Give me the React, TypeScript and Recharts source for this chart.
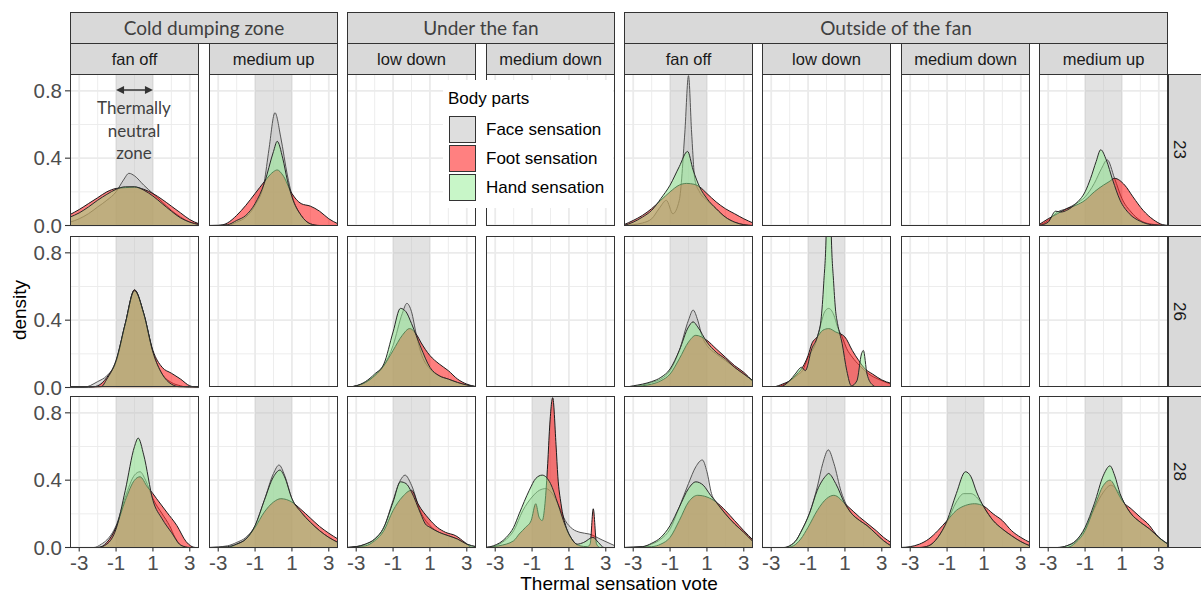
import React from 'react';
import { ComposedChart, Area, XAxis, YAxis, CartesianGrid, ReferenceLine } from 'recharts';

type Pt = [number, number];

// ---------- labels / categories ----------
const ZONES = ['Cold dumping zone', 'Under the fan', 'Outside of the fan'];
const COLUMN_ZONE = [0, 0, 1, 1, 2, 2, 2, 2];
const COLUMN_LABELS = ['fan off', 'medium up', 'low down', 'medium down', 'fan off', 'low down', 'medium down', 'medium up'];
const COLUMN_KEYS = ['cold_fanoff', 'cold_mediumup', 'under_lowdown', 'under_mediumdown', 'out_fanoff', 'out_lowdown', 'out_mediumdown', 'out_mediumup'];
const TEMPS = ['23', '26', '28'];
const BODY_PARTS = ['Face sensation', 'Foot sensation', 'Hand sensation'];
const X_TICKS = [-3, -1, 1, 3];
const X_MINOR = [-2, 0, 2];
const Y_TICKS = [0, 0.4, 0.8];
const Y_MINOR = [0.2, 0.6];
const X_DOMAIN: [number, number] = [-3.5, 3.5];
const Y_DOMAIN: [number, number] = [0, 0.9];
const NEUTRAL_ZONE: [number, number] = [-1, 1];
const ARROW_Y = 0.805;
const NOTE_LINES = ['Thermally', 'neutral', 'zone'];

// ---------- densities, 23 ----------
const t23_cold_fanoff_face: Pt[] = [[-3.5,0.02],[-3,0.04],[-2.5,0.07],[-2,0.11],[-1.5,0.15],[-1,0.2],[-0.6,0.27],[-0.3,0.31],[0,0.295],[0.5,0.24],[1,0.19],[1.5,0.14],[2,0.09],[2.5,0.05],[3,0.02],[3.5,0.01]];
const t23_cold_fanoff_foot: Pt[] = [[-3.5,0.065],[-3,0.095],[-2.5,0.13],[-2,0.165],[-1.5,0.2],[-1,0.22],[-0.5,0.225],[0,0.228],[0.5,0.215],[1,0.19],[1.5,0.155],[2,0.115],[2.5,0.075],[3,0.035],[3.5,0.01]];
const t23_cold_fanoff_hand: Pt[] = [[-3.5,0.05],[-3,0.075],[-2.5,0.11],[-2,0.15],[-1.5,0.185],[-1,0.215],[-0.5,0.23],[0,0.23],[0.5,0.21],[1,0.175],[1.5,0.13],[2,0.085],[2.5,0.045],[3,0.02],[3.5,0.005]];

const t23_cold_mediumup_face: Pt[] = [[-3.5,0],[-2.5,0],[-2,0.02],[-1.5,0.05],[-1,0.12],[-0.5,0.26],[-0.25,0.45],[0.08,0.67],[0.4,0.52],[0.75,0.3],[1,0.18],[1.5,0.06],[2,0.01],[2.5,0],[3.5,0]];
const t23_cold_mediumup_foot: Pt[] = [[-3.5,0],[-3,0],[-2.5,0.015],[-2,0.06],[-1.5,0.12],[-1,0.19],[-0.5,0.26],[0,0.32],[0.2,0.33],[0.5,0.3],[1,0.19],[1.5,0.13],[2,0.115],[2.5,0.085],[3,0.04],[3.5,0.01]];
const t23_cold_mediumup_hand: Pt[] = [[-3.5,0],[-2.5,0.005],[-2,0.03],[-1.5,0.06],[-1,0.13],[-0.5,0.25],[0,0.44],[0.2,0.5],[0.5,0.4],[0.75,0.27],[1,0.17],[1.5,0.06],[2,0.01],[2.5,0],[3.5,0]];

const t23_out_fanoff_face: Pt[] = [[-3.5,0],[-3,0.005],[-2.5,0.015],[-2,0.04],[-1.6,0.1],[-1.2,0.15],[-0.85,0.07],[-0.5,0.15],[-0.2,0.55],[0,0.89],[0.17,0.55],[0.35,0.27],[0.6,0.2],[1,0.15],[1.5,0.1],[2,0.05],[2.5,0.02],[3,0.005],[3.5,0]];
const t23_out_fanoff_foot: Pt[] = [[-3.5,0.005],[-3,0.03],[-2.5,0.06],[-2,0.1],[-1.5,0.15],[-1,0.2],[-0.5,0.24],[-0.1,0.25],[0.3,0.245],[0.6,0.23],[1,0.19],[1.5,0.14],[2,0.1],[2.5,0.07],[3,0.04],[3.5,0.015]];
const t23_out_fanoff_hand: Pt[] = [[-3.5,0],[-3,0.02],[-2.5,0.05],[-2,0.09],[-1.5,0.16],[-1,0.24],[-0.5,0.35],[-0.05,0.44],[0.25,0.33],[0.6,0.23],[1,0.16],[1.5,0.1],[2,0.05],[2.5,0.02],[3,0.005],[3.5,0]];

const t23_out_mediumup_face: Pt[] = [[-3.5,0],[-3,0.03],[-2.5,0.08],[-2,0.1],[-1.5,0.13],[-1,0.17],[-0.5,0.25],[-0.1,0.34],[0.2,0.39],[0.6,0.28],[1,0.16],[1.5,0.08],[2,0.03],[2.5,0.01],[3.5,0]];
const t23_out_mediumup_foot: Pt[] = [[-3.5,0.005],[-3,0.04],[-2.5,0.07],[-2,0.1],[-1.5,0.12],[-1,0.15],[-0.5,0.2],[0,0.24],[0.3,0.26],[0.6,0.28],[1.15,0.24],[1.6,0.17],[2.15,0.09],[2.7,0.035],[3.2,0.005],[3.5,0]];
const t23_out_mediumup_hand: Pt[] = [[-3.5,0],[-3,0.02],[-2.6,0.085],[-2.3,0.08],[-2,0.09],[-1.5,0.13],[-1,0.2],[-0.7,0.28],[-0.4,0.38],[-0.15,0.45],[0.15,0.39],[0.5,0.27],[0.9,0.15],[1.4,0.07],[2,0.025],[2.6,0.005],[3.5,0]];

// ---------- densities, 26 ----------
const t26_cold_fanoff_face: Pt[] = [[-3.5,0],[-2.8,0],[-2,0.035],[-1.5,0.07],[-1,0.15],[-0.5,0.38],[0,0.58],[0.5,0.44],[1,0.21],[1.5,0.08],[2,0.03],[2.5,0.01],[3,0],[3.5,0]];
const t26_cold_fanoff_foot: Pt[] = [[-3.5,0],[-2.5,0],[-2,0.01],[-1.5,0.06],[-1,0.16],[-0.5,0.38],[0,0.58],[0.5,0.44],[1,0.22],[1.5,0.12],[2,0.085],[2.5,0.05],[3,0.01],[3.5,0]];
const t26_cold_fanoff_hand: Pt[] = [[-3.5,0],[-2.5,0],[-1.8,0.005],[-1.5,0.05],[-1,0.16],[-0.5,0.38],[0,0.575],[0.5,0.44],[1,0.21],[1.5,0.08],[2,0.02],[2.5,0.003],[3.5,0]];

const t26_under_lowdown_face: Pt[] = [[-3.5,0],[-3,0.01],[-2.5,0.03],[-2,0.07],[-1.5,0.13],[-1,0.25],[-0.5,0.44],[-0.25,0.5],[0,0.45],[0.25,0.32],[0.5,0.21],[1,0.11],[1.5,0.07],[2,0.05],[2.5,0.03],[3,0.015],[3.5,0.005]];
const t26_under_lowdown_foot: Pt[] = [[-3.5,0],[-3,0.01],[-2.5,0.03],[-2,0.07],[-1.5,0.13],[-1,0.22],[-0.5,0.31],[-0.1,0.35],[0.3,0.31],[0.5,0.27],[1,0.19],[1.5,0.14],[2,0.1],[2.5,0.05],[3,0.02],[3.5,0.005]];
const t26_under_lowdown_hand: Pt[] = [[-3.5,0],[-3,0.01],[-2.5,0.035],[-2,0.08],[-1.5,0.14],[-1,0.33],[-0.6,0.47],[-0.3,0.45],[0,0.38],[0.5,0.24],[1,0.12],[1.5,0.07],[2,0.05],[2.5,0.03],[3,0.015],[3.5,0.005]];

const t26_out_fanoff_face: Pt[] = [[-3.5,0],[-3,0.005],[-2.5,0.015],[-2,0.03],[-1.5,0.05],[-1,0.1],[-0.5,0.22],[0,0.4],[0.25,0.46],[0.5,0.4],[0.75,0.3],[1,0.25],[1.5,0.2],[2,0.16],[2.5,0.12],[3,0.08],[3.5,0.04]];
const t26_out_fanoff_foot: Pt[] = [[-3.5,0],[-3,0],[-2.5,0.01],[-2,0.02],[-1.5,0.04],[-1,0.08],[-0.5,0.17],[0,0.27],[0.4,0.31],[1,0.28],[1.5,0.23],[2,0.18],[2.5,0.13],[3,0.09],[3.5,0.035]];
const t26_out_fanoff_hand: Pt[] = [[-3.5,0],[-3,0.01],[-2.5,0.02],[-2,0.035],[-1.5,0.06],[-1,0.11],[-0.5,0.22],[0,0.36],[0.25,0.39],[0.5,0.36],[1,0.27],[1.5,0.21],[2,0.17],[2.5,0.12],[3,0.08],[3.5,0.04]];

const t26_out_lowdown_face: Pt[] = [[-3.5,0],[-2.5,0.01],[-2,0.04],[-1.5,0.08],[-1.3,0.1],[-1,0.18],[-0.6,0.26],[-0.3,0.38],[-0.1,0.45],[0.12,0.47],[0.4,0.43],[0.6,0.36],[0.85,0.3],[1.1,0.23],[1.4,0.18],[1.8,0.13],[2.3,0.08],[2.8,0.05],[3.5,0.02]];
const t26_out_lowdown_foot: Pt[] = [[-3.5,0],[-2.8,0.005],[-2.4,0.02],[-2,0.04],[-1.6,0.08],[-1.3,0.12],[-1,0.19],[-0.8,0.26],[-0.5,0.3],[-0.2,0.34],[0.12,0.35],[0.5,0.33],[1,0.3],[1.4,0.22],[1.75,0.16],[2.1,0.11],[2.5,0.08],[3,0.045],[3.5,0.025]];
const t26_out_lowdown_hand: Pt[] = [[-3.5,0],[-2.5,0.005],[-2,0.04],[-1.7,0.08],[-1.35,0.12],[-1.15,0.1],[-0.8,0.23],[-0.5,0.3],[-0.3,0.4],[-0.15,0.62],[-0.01,0.95],[0.02,1.3],[0.22,1.3],[0.25,0.95],[0.39,0.62],[0.5,0.45],[0.6,0.38],[0.85,0.26],[1.1,0.1],[1.35,0.01],[1.65,0.04],[1.9,0.2],[2,0.22],[2.2,0.08],[2.5,0.015],[2.8,0],[3.5,0]];

// ---------- densities, 28 ----------
const t28_cold_fanoff_face: Pt[] = [[-3.5,0],[-2.2,0],[-1.8,0.02],[-1.5,0.045],[-1,0.13],[-0.5,0.3],[0,0.43],[0.3,0.45],[0.6,0.4],[1,0.29],[1.5,0.2],[1.9,0.13],[2.2,0.06],[2.55,0.01],[3,0],[3.5,0]];
const t28_cold_fanoff_foot: Pt[] = [[-3.5,0],[-2,0],[-1.5,0.03],[-1,0.12],[-0.5,0.28],[0,0.4],[0.3,0.42],[0.7,0.36],[1,0.32],[1.2,0.29],[1.75,0.21],[2.3,0.13],[2.8,0.035],[3.3,0],[3.5,0]];
const t28_cold_fanoff_hand: Pt[] = [[-3.5,0],[-2,0],[-1.5,0.02],[-1,0.11],[-0.5,0.34],[0,0.6],[0.2,0.65],[0.5,0.55],[1,0.28],[1.5,0.17],[2,0.09],[2.5,0.015],[3,0],[3.5,0]];

const t28_cold_mediumup_face: Pt[] = [[-3.5,0],[-2.5,0.01],[-2,0.03],[-1.5,0.06],[-1,0.13],[-0.5,0.28],[0,0.44],[0.3,0.49],[0.6,0.43],[1,0.29],[1.5,0.21],[2,0.15],[2.5,0.1],[3,0.06],[3.5,0.03]];
const t28_cold_mediumup_foot: Pt[] = [[-3.5,0],[-2.5,0],[-2,0.02],[-1.5,0.05],[-1,0.12],[-0.5,0.21],[0,0.27],[0.4,0.29],[1,0.27],[1.45,0.23],[2,0.175],[2.5,0.125],[3,0.085],[3.5,0.05]];
const t28_cold_mediumup_hand: Pt[] = [[-3.5,0],[-2.5,0.005],[-2,0.02],[-1.5,0.05],[-1,0.13],[-0.5,0.28],[0,0.42],[0.35,0.46],[0.6,0.42],[1,0.29],[1.5,0.21],[2,0.15],[2.5,0.1],[3,0.06],[3.5,0.03]];

const t28_under_lowdown_face: Pt[] = [[-3.5,0],[-3,0.005],[-2.5,0.02],[-2,0.05],[-1.5,0.12],[-1,0.28],[-0.6,0.4],[-0.35,0.43],[0,0.37],[0.5,0.21],[1,0.13],[1.5,0.09],[2,0.07],[2.5,0.05],[3,0.02],[3.5,0.005]];
const t28_under_lowdown_foot: Pt[] = [[-3.5,0],[-3,0.005],[-2.5,0.01],[-2,0.04],[-1.5,0.1],[-1,0.22],[-0.5,0.3],[0,0.34],[0.35,0.26],[0.95,0.17],[1.4,0.12],[1.85,0.09],[2.4,0.07],[2.9,0.03],[3.3,0],[3.5,0]];
const t28_under_lowdown_hand: Pt[] = [[-3.5,0],[-3,0.005],[-2.5,0.02],[-2,0.05],[-1.5,0.12],[-1,0.27],[-0.6,0.39],[-0.3,0.38],[0,0.33],[0.5,0.2],[0.75,0.14],[1,0.12],[1.5,0.09],[2,0.07],[2.5,0.05],[3,0.02],[3.5,0.005]];

const t28_under_mediumdown_face: Pt[] = [[-3.5,0],[-3,0.01],[-2.5,0.04],[-2,0.1],[-1.5,0.22],[-1,0.3],[-0.6,0.34],[-0.25,0.35],[0.1,0.32],[0.4,0.26],[0.8,0.16],[1.2,0.11],[1.6,0.09],[2.1,0.08],[2.8,0.045],[3.5,0.01]];
const t28_under_mediumdown_foot: Pt[] = [[-3.5,0],[-2.8,0.01],[-2,0.04],[-1.7,0.08],[-1.35,0.12],[-1.05,0.16],[-0.8,0.26],[-0.62,0.18],[-0.45,0.16],[-0.3,0.26],[-0.15,0.5],[-0.05,0.71],[0.12,0.89],[0.3,0.61],[0.4,0.42],[0.57,0.26],[0.85,0.12],[1.1,0.06],[1.3,0.03],[1.6,0.01],[2,0.005],[2.15,0.02],[2.32,0.23],[2.5,0.02],[2.7,0],[3.5,0]];
const t28_under_mediumdown_hand: Pt[] = [[-3.5,0],[-3.1,0.01],[-2.4,0.06],[-2,0.12],[-1.7,0.2],[-1.15,0.34],[-0.8,0.41],[-0.45,0.43],[0,0.38],[0.4,0.26],[0.8,0.13],[1.1,0.06],[1.45,0.02],[1.8,0.03],[2.3,0.06],[2.6,0.03],[2.9,0],[3.5,0]];

const t28_out_fanoff_face: Pt[] = [[-3.5,0],[-2.5,0.005],[-2,0.02],[-1.5,0.05],[-1,0.11],[-0.5,0.24],[0,0.38],[0.4,0.48],[0.75,0.52],[1,0.45],[1.25,0.32],[1.5,0.27],[2,0.2],[2.5,0.14],[3,0.09],[3.5,0.035]];
const t28_out_fanoff_foot: Pt[] = [[-3.5,0],[-2,0.005],[-1.5,0.02],[-1,0.06],[-0.5,0.16],[0,0.27],[0.5,0.31],[1,0.3],[1.5,0.27],[2,0.22],[2.5,0.16],[3,0.1],[3.5,0.045]];
const t28_out_fanoff_hand: Pt[] = [[-3.5,0],[-2.5,0.005],[-2,0.025],[-1.5,0.06],[-1,0.13],[-0.5,0.24],[0,0.35],[0.4,0.39],[0.8,0.37],[1.2,0.31],[1.5,0.27],[2,0.2],[2.5,0.14],[3,0.09],[3.5,0.035]];

const t28_out_lowdown_face: Pt[] = [[-3.5,0],[-2.3,0],[-2,0.01],[-1.6,0.05],[-1.4,0.09],[-0.9,0.21],[-0.5,0.36],[-0.2,0.5],[0.1,0.58],[0.4,0.5],[0.8,0.33],[1.05,0.26],[1.3,0.21],[1.8,0.16],[2.2,0.13],[2.7,0.08],[3.1,0.04],[3.5,0.01]];
const t28_out_lowdown_foot: Pt[] = [[-3.5,0],[-2.2,0],[-1.8,0.01],[-1.4,0.05],[-1,0.12],[-0.5,0.22],[0,0.29],[0.4,0.31],[1.1,0.25],[1.8,0.18],[2.7,0.1],[3.1,0.06],[3.5,0.03]];
const t28_out_lowdown_hand: Pt[] = [[-3.5,0],[-2.3,0],[-2,0.01],[-1.6,0.05],[-1.4,0.09],[-0.9,0.21],[-0.5,0.34],[0,0.43],[0.1,0.44],[0.5,0.38],[1,0.26],[1.3,0.21],[1.8,0.16],[2.2,0.13],[2.7,0.08],[3.1,0.04],[3.5,0.01]];

const t28_out_mediumdown_face: Pt[] = [[-3.5,0],[-2.5,0],[-2,0.01],[-1.5,0.06],[-1,0.15],[-0.5,0.27],[-0.1,0.32],[0.3,0.32],[0.6,0.3],[1,0.24],[1.5,0.16],[2,0.11],[2.5,0.07],[3,0.035],[3.5,0.01]];
const t28_out_mediumdown_foot: Pt[] = [[-3.5,0],[-3,0.005],[-2.5,0.02],[-2,0.05],[-1.5,0.1],[-1,0.16],[-0.5,0.22],[0,0.25],[0.5,0.26],[1,0.245],[1.5,0.2],[2,0.16],[2.5,0.1],[3,0.06],[3.5,0.03]];
const t28_out_mediumdown_hand: Pt[] = [[-3.5,0],[-2.5,0],[-2,0.01],[-1.5,0.06],[-1,0.16],[-0.5,0.32],[0,0.45],[0.3,0.42],[0.6,0.33],[1,0.24],[1.5,0.16],[2,0.11],[2.5,0.07],[3,0.035],[3.5,0.01]];

const t28_out_mediumup_face: Pt[] = [[-3.5,0],[-2.5,0],[-2,0.01],[-1.5,0.04],[-1,0.11],[-0.5,0.23],[0,0.33],[0.4,0.37],[0.8,0.33],[1.2,0.25],[1.5,0.2],[2,0.15],[2.5,0.11],[3,0.06],[3.5,0.02]];
const t28_out_mediumup_foot: Pt[] = [[-3.5,0],[-2,0],[-1.5,0.03],[-1,0.1],[-0.5,0.24],[0,0.37],[0.35,0.4],[0.8,0.32],[1,0.28],[1.5,0.23],[2,0.18],[2.5,0.13],[2.7,0.1],[3,0.06],[3.5,0.02]];
const t28_out_mediumup_hand: Pt[] = [[-3.5,0],[-2.5,0],[-2,0.01],[-1.5,0.04],[-1,0.12],[-0.5,0.26],[0,0.43],[0.35,0.485],[0.6,0.43],[0.9,0.32],[1.2,0.25],[1.5,0.2],[2,0.15],[2.5,0.11],[3,0.06],[3.5,0.02]];

// panel table: [face, foot, hand] or null when the facet has no data
const PANELS: Record<string, Pt[][] | null> = {
  '23_cold_fanoff': [t23_cold_fanoff_face, t23_cold_fanoff_foot, t23_cold_fanoff_hand],
  '23_cold_mediumup': [t23_cold_mediumup_face, t23_cold_mediumup_foot, t23_cold_mediumup_hand],
  '23_under_lowdown': null,
  '23_under_mediumdown': null,
  '23_out_fanoff': [t23_out_fanoff_face, t23_out_fanoff_foot, t23_out_fanoff_hand],
  '23_out_lowdown': null,
  '23_out_mediumdown': null,
  '23_out_mediumup': [t23_out_mediumup_face, t23_out_mediumup_foot, t23_out_mediumup_hand],
  '26_cold_fanoff': [t26_cold_fanoff_face, t26_cold_fanoff_foot, t26_cold_fanoff_hand],
  '26_cold_mediumup': null,
  '26_under_lowdown': [t26_under_lowdown_face, t26_under_lowdown_foot, t26_under_lowdown_hand],
  '26_under_mediumdown': null,
  '26_out_fanoff': [t26_out_fanoff_face, t26_out_fanoff_foot, t26_out_fanoff_hand],
  '26_out_lowdown': [t26_out_lowdown_face, t26_out_lowdown_foot, t26_out_lowdown_hand],
  '26_out_mediumdown': null,
  '26_out_mediumup': null,
  '28_cold_fanoff': [t28_cold_fanoff_face, t28_cold_fanoff_foot, t28_cold_fanoff_hand],
  '28_cold_mediumup': [t28_cold_mediumup_face, t28_cold_mediumup_foot, t28_cold_mediumup_hand],
  '28_under_lowdown': [t28_under_lowdown_face, t28_under_lowdown_foot, t28_under_lowdown_hand],
  '28_under_mediumdown': [t28_under_mediumdown_face, t28_under_mediumdown_foot, t28_under_mediumdown_hand],
  '28_out_fanoff': [t28_out_fanoff_face, t28_out_fanoff_foot, t28_out_fanoff_hand],
  '28_out_lowdown': [t28_out_lowdown_face, t28_out_lowdown_foot, t28_out_lowdown_hand],
  '28_out_mediumdown': [t28_out_mediumdown_face, t28_out_mediumdown_foot, t28_out_mediumdown_hand],
  '28_out_mediumup': [t28_out_mediumup_face, t28_out_mediumup_foot, t28_out_mediumup_hand],
};

// ---------- styling / layout ----------
const FILLS = ['#bebebe', '#ff0000', '#90ee90'];
const FILL_OPACITY = 0.5;
const STROKES = ['#555555', '#1a1a1a', '#2a2a2a'];
const KEY_COLORS = ['#dedede', '#ff8080', '#c8f6c8'];
const SANS = '"Liberation Sans", Arial, sans-serif';
const CAL = 'Lato, "Open Sans", sans-serif';
const COL_LEFT = [70, 209, 347, 486, 624, 762, 901, 1039];
const PW = 129;
const ROW_TOP = [74, 235.5, 396];
const PH = 151.5;
const YW = 70;
const XH = 34;
const LABEL_ROOM = 14;
const STRIP_BG = '#d9d9d9';
const BORDER = '#333333';
const GRID = '#ebebeb';

const rows = (pts: Pt[]) => pts.map(([x, y]) => ({ x, y }));
const bandRows = NEUTRAL_ZONE.map((x) => ({ x, y: Y_DOMAIN[1] }));

const scaleOf = (axis: any, v: number): number => {
  const s = axis?.scale;
  if (!s) return NaN;
  if (typeof s === 'function') return s(v);
  if (typeof s.map === 'function') return s.map(v);
  return NaN;
};

const ArrowShape = (p: any) => {
  const { x1, y1, x2, y2 } = p;
  if ([x1, y1, x2, y2].some((v) => typeof v !== 'number' || isNaN(v))) return <g />;
  const h = 4;
  const l = 8;
  return (
    <g>
      <line x1={x1 + 2} y1={y1} x2={x2 - 2} y2={y2} stroke="#333" strokeWidth={1.6} />
      <path d={`M${x1},${y1} L${x1 + l},${y1 - h} L${x1 + l},${y1 + h} Z`} fill="#333" />
      <path d={`M${x2},${y2} L${x2 - l},${y2 - h} L${x2 - l},${y2 + h} Z`} fill="#333" />
    </g>
  );
};

function Panel({ row, col }: { row: number; col: number }) {
  const curves = PANELS[`${TEMPS[row]}_${COLUMN_KEYS[col]}`];
  const isLeft = col === 0;
  const isBottom = row === TEMPS.length - 1;
  const yw = isLeft ? YW : 0;
  const xh = isBottom ? XH : 0;
  const extra = isLeft && !isBottom ? LABEL_ROOM : 0;
  const width = PW + yw;
  const height = PH + xh + extra;
  const showNote = row === 0 && col === 0;
  return (
    <div style={{ position: 'absolute', left: COL_LEFT[col] - yw, top: ROW_TOP[row], width, height }}>
      <ComposedChart width={width} height={height} margin={{ top: 0, right: 0, bottom: extra, left: 0 }}>
        <CartesianGrid
          stroke={GRID}
          strokeWidth={0.9}
          verticalCoordinatesGenerator={({ xAxis }: any) => X_MINOR.map((v) => scaleOf(xAxis, v))}
          horizontalCoordinatesGenerator={({ yAxis }: any) => Y_MINOR.map((v) => scaleOf(yAxis, v))}
        />
        <CartesianGrid
          stroke={GRID}
          strokeWidth={1.8}
          verticalCoordinatesGenerator={({ xAxis }: any) => X_TICKS.map((v) => scaleOf(xAxis, v))}
          horizontalCoordinatesGenerator={({ yAxis }: any) => Y_TICKS.map((v) => scaleOf(yAxis, v))}
        />
        <XAxis
          type="number"
          dataKey="x"
          domain={X_DOMAIN}
          ticks={X_TICKS}
          allowDataOverflow
          hide={!isBottom}
          height={isBottom ? XH : 0}
          axisLine={false}
          tickLine={{ stroke: BORDER, strokeWidth: 1.1 }}
          tickSize={4}
          tickMargin={4}
          interval={0}
          tick={{ fontSize: 20.5, fill: '#4d4d4d', fontFamily: SANS }}
        />
        <YAxis
          type="number"
          domain={Y_DOMAIN}
          ticks={Y_TICKS}
          allowDataOverflow
          hide={!isLeft}
          width={isLeft ? YW : 0}
          axisLine={false}
          tickLine={{ stroke: BORDER, strokeWidth: 1.1 }}
          tickSize={5}
          tickMargin={3}
          interval={0}
          tickFormatter={(v: number) => v.toFixed(1)}
          tick={{ fontSize: 20.5, fill: '#4d4d4d', fontFamily: SANS }}
        />
        {curves && (
          <Area
            data={bandRows}
            dataKey="y"
            type="linear"
            fill="#bebebe"
            fillOpacity={0.45}
            stroke="none"
            dot={false}
            activeDot={false}
            isAnimationActive={false}
          />
        )}
        {curves &&
          curves.map((pts, i) => (
            <Area
              key={i}
              data={rows(pts)}
              dataKey="y"
              name={BODY_PARTS[i]}
              type="monotone"
              fill={FILLS[i]}
              fillOpacity={FILL_OPACITY}
              stroke={STROKES[i]}
              strokeWidth={1}
              dot={false}
              activeDot={false}
              isAnimationActive={false}
            />
          ))}
        {showNote && (
          <ReferenceLine
            segment={[
              { x: NEUTRAL_ZONE[0], y: ARROW_Y },
              { x: NEUTRAL_ZONE[1], y: ARROW_Y },
            ]}
            stroke="#333"
            shape={ArrowShape}
            ifOverflow="visible"
          />
        )}
      </ComposedChart>
      <div
        style={{
          position: 'absolute',
          left: yw,
          top: 0,
          width: PW,
          height: PH,
          border: `1px solid ${BORDER}`,
          boxSizing: 'border-box',
          pointerEvents: 'none',
        }}
      />
    </div>
  );
}

export default function App() {
  const groupSpans = ZONES.map((z, zi) => {
    const cols = COLUMN_ZONE.map((c, i) => (c === zi ? i : -1)).filter((i) => i >= 0);
    const left = COL_LEFT[cols[0]];
    const right = COL_LEFT[cols[cols.length - 1]] + PW;
    return { z, left, width: right - left };
  });
  return (
    <div
      style={{
        position: 'absolute',
        left: 0,
        top: 0,
        width: 1201,
        height: 599,
        background: '#fff',
        overflow: 'hidden',
        fontFamily: SANS,
      }}
    >
      {groupSpans.map((g) => (
        <div
          key={g.z}
          style={{
            position: 'absolute',
            left: g.left,
            top: 11.5,
            width: g.width,
            height: 32,
            background: STRIP_BG,
            border: `1px solid ${BORDER}`,
            boxSizing: 'border-box',
            textAlign: 'center',
            lineHeight: '30px',
            fontFamily: CAL,
            fontSize: 19,
            color: '#404040',
          }}
        >
          {g.z}
        </div>
      ))}
      {COLUMN_LABELS.map((lab, i) => (
        <div
          key={i}
          style={{
            position: 'absolute',
            left: COL_LEFT[i],
            top: 42.5,
            width: PW,
            height: 32,
            background: STRIP_BG,
            border: `1px solid ${BORDER}`,
            boxSizing: 'border-box',
            textAlign: 'center',
            lineHeight: '30px',
            fontSize: 16.5,
            color: '#1a1a1a',
          }}
        >
          {lab}
        </div>
      ))}
      {TEMPS.map((t, r) => (
        <div
          key={t}
          style={{
            position: 'absolute',
            left: 1168,
            top: ROW_TOP[r],
            width: 60,
            height: PH,
            background: STRIP_BG,
            border: `1px solid ${BORDER}`,
            boxSizing: 'border-box',
          }}
        >
          <div
            style={{
              position: 'absolute',
              left: 0,
              top: 0,
              width: 20,
              height: PH - 2,
              display: 'flex',
              alignItems: 'center',
              justifyContent: 'center',
            }}
          >
            <span style={{ writingMode: 'vertical-rl', fontSize: 17, color: '#1a1a1a' }}>{t}</span>
          </div>
        </div>
      ))}
      {TEMPS.map((_, r) => COLUMN_KEYS.map((__, c) => <Panel key={`${r}-${c}`} row={r} col={c} />))}
      <div
        style={{
          position: 'absolute',
          left: 84,
          top: 97,
          width: 100,
          textAlign: 'center',
          fontFamily: CAL,
          fontSize: 17,
          lineHeight: '22.5px',
          color: '#404040',
        }}
      >
        {NOTE_LINES.map((l) => (
          <div key={l}>{l}</div>
        ))}
      </div>
      <div
        style={{
          position: 'absolute',
          left: 443,
          top: 80,
          width: 170,
          height: 128,
          background: '#fff',
        }}
      >
        <div style={{ position: 'absolute', left: 5, top: 9, fontSize: 17, color: '#000', whiteSpace: 'nowrap' }}>Body parts</div>
        {BODY_PARTS.map((b, i) => (
          <React.Fragment key={b}>
            <div
              style={{
                position: 'absolute',
                left: 6,
                top: 35.5 + i * 29,
                width: 27,
                height: 27,
                background: KEY_COLORS[i],
                border: `1.5px solid ${BORDER}`,
                boxSizing: 'border-box',
              }}
            />
            <div
              style={{
                position: 'absolute',
                left: 43,
                top: 35.5 + i * 29,
                height: 27,
                lineHeight: '27px',
                fontSize: 17,
                color: '#000',
                whiteSpace: 'nowrap',
              }}
            >
              {b}
            </div>
          </React.Fragment>
        ))}
      </div>
      <div
        style={{
          position: 'absolute',
          left: 419,
          top: 573,
          width: 400,
          textAlign: 'center',
          fontSize: 19,
          color: '#000',
        }}
      >
        Thermal sensation vote
      </div>
      <div
        style={{
          position: 'absolute',
          left: 20,
          top: 310,
          transform: 'translate(-50%, -50%) rotate(-90deg)',
          fontSize: 19,
          color: '#000',
          whiteSpace: 'nowrap',
        }}
      >
        density
      </div>
    </div>
  );
}
